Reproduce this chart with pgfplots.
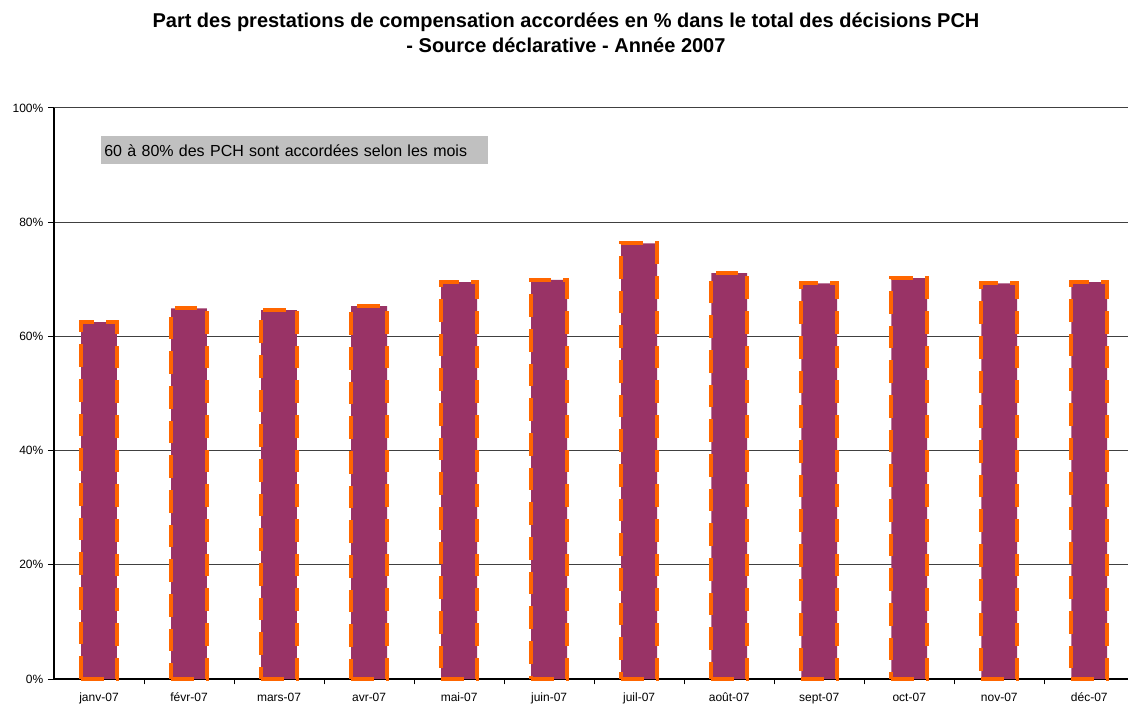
\documentclass[border=0pt]{standalone}
\usepackage{pgfplots}
\pgfplotsset{compat=1.18}
\usepackage{fontspec}
\setmainfont{Liberation Sans}
\definecolor{barfill}{HTML}{993366}
\definecolor{barline}{HTML}{FF6600}
\definecolor{boxgray}{HTML}{C0C0C0}
\begin{document}
\begin{tikzpicture}
\begin{axis}[
  at={(40.5pt,18.75pt)}, anchor=south west,
  scale only axis, width=805.5pt, height=428.25pt,
  xmin=-0.5, xmax=11.43, ymin=0, ymax=100,
  axis x line*=bottom, axis y line*=left,
  axis line style={-, black, line width=1pt},
  ytick={0,20,...,100},
  yticklabel={\pgfmathprintnumber{\tick}\%},
  /pgf/number format/assume math mode=true,
  ymajorgrids, grid style={black!75, line width=0.75pt},
  xtick={0,...,11},
  xticklabels={janv-07,févr-07,mars-07,avr-07,mai-07,juin-07,juil-07,août-07,sept-07,oct-07,nov-07,déc-07},
  major x tick style={draw=none},
  minor xtick={0.5,1.5,...,10.5},
  minor tick style={black, line width=0.75pt},
  major tick style={black, line width=0.75pt},
  tick align=outside, major tick length=4.5pt, minor tick length=4pt,
  every tick label/.append style={font=\fontsize{9}{11}\selectfont},
  xticklabel style={yshift=-2.5pt},
  ybar, bar width=26.9pt,
  clip=false,
]
\addplot[fill=barfill, draw=barline, line width=3pt, dash pattern=on 17pt off 9pt]
  coordinates {(0,62.5) (1,64.9) (2,64.6) (3,65.3) (4,69.5) (5,69.9) (6,76.3) (7,71.1) (8,69.3) (9,70.2) (10,69.3) (11,69.5)};
\end{axis}
\node[align=center, font=\fontsize{15}{18.75}\selectfont\bfseries] at (424.5pt,503.6pt)
  {Part des prestations de compensation accordées en \% dans le total des décisions PCH\\- Source déclarative - Année 2007};
\node[fill=boxgray, anchor=north west, inner xsep=2.25pt, inner ysep=0pt, text width=285.75pt, align=left, minimum height=21pt, font=\fontsize{12}{14}\selectfont] at (75.75pt,426pt)
  {60 à 80\% des PCH sont accordées selon les mois};
\pgfresetboundingbox
\path[use as bounding box] (0,0) rectangle (846pt,528pt);
\end{tikzpicture}
\end{document}
